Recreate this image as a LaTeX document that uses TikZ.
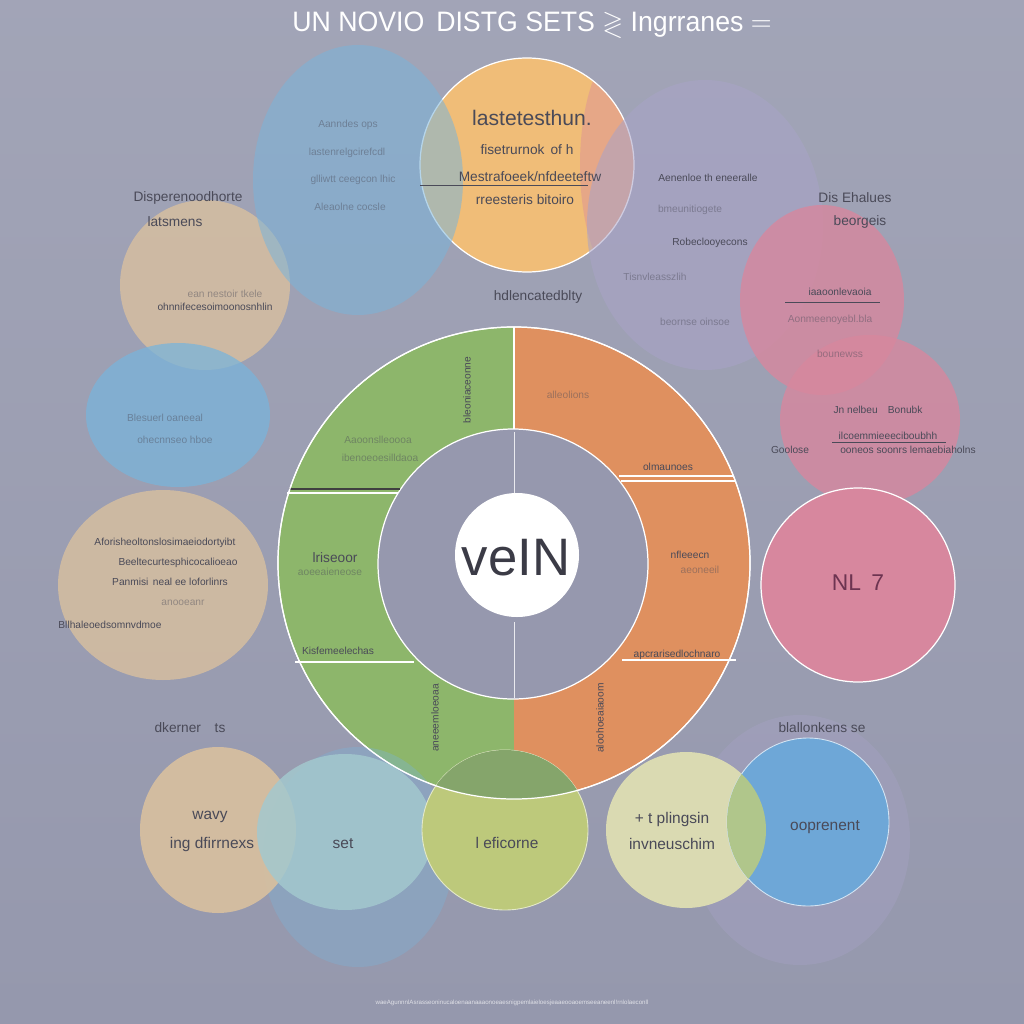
\documentclass[tikz,border=0pt]{standalone}
\usepackage{amssymb}
\usepackage{fontspec}
\setmainfont{Liberation Sans}
\usetikzlibrary{positioning}

\definecolor{bg}{HTML}{9598AD}
\definecolor{txtgray}{HTML}{4A4A58}
\definecolor{grn}{HTML}{8DB66B}
\definecolor{org}{HTML}{DF905F}
\definecolor{inner}{HTML}{9698AE}
\definecolor{yel}{HTML}{F0BD78}
\definecolor{sky}{HTML}{7AB4DA}
\definecolor{lav}{HTML}{A9A3C8}
\definecolor{pnk}{HTML}{D7879E}
\definecolor{sand}{HTML}{D9C09F}
\definecolor{teal}{HTML}{A3C8CE}
\definecolor{lime}{HTML}{BDC97B}
\definecolor{cream}{HTML}{DADAB2}
\definecolor{blu}{HTML}{6EA7D7}

\begin{document}
\begin{tikzpicture}[x=0.02cm, y=-0.02cm,
    txt/.style={text=txtgray, font=\fontsize{5.8}{6}\selectfont},
    dim/.style={txt, opacity=.45},
    lbl/.style={text=txtgray, font=\fontsize{7.8}{9}\selectfont},
    mid/.style={text=txtgray, font=\fontsize{8.8}{10}\selectfont},
    rim/.style={draw=white, line width=.7pt}]
    \tikzstyle{every node}=[inner sep=0pt];

    \useasboundingbox (0,0) rectangle (1024,1024);
    \shade[top color=bg!88!white, bottom color=bg] (0,0) rectangle (1024,1024);

    % blobs on the left
    \fill[sand, opacity=.8] (205,285) ellipse [x radius=85, y radius=85];
    \fill[sky, opacity=.75] (178,415) ellipse [x radius=92, y radius=72];
    \fill[sand, opacity=.8] (163,585) ellipse [x radius=105, y radius=95];

    % blobs on top
    \fill[yel] (527,165) circle [radius=107];
    \begin{scope}
        \clip (527,165) circle [radius=107];
        \fill[pnk, opacity=.4] (625,165) ellipse [x radius=45, y radius=120];
    \end{scope}
    \draw[rim] (527,165) circle [radius=107];
    \fill[sky, opacity=.55] (358,180) ellipse [x radius=105, y radius=135];
    \fill[lav, opacity=.55] (705,225) ellipse [x radius=118, y radius=145];
    \fill[pnk, opacity=.8] (822,300) ellipse [x radius=82, y radius=95];
    \fill[pnk, opacity=.8] (870,420) ellipse [x radius=90, y radius=85];

    % pink circle on the right
    \fill[pnk] (858,585) circle [radius=97];
    \draw[rim] (858,585) circle [radius=97];

    % ring
    \begin{scope}
        \clip (0,0) rectangle (514,1024);
        \fill[grn] (514,563) circle [radius=236];
    \end{scope}
    \begin{scope}
        \clip (514,0) rectangle (1024,1024);
        \fill[org] (514,563) circle [radius=236];
    \end{scope}
    \draw[rim] (514,563) circle [radius=236];
    \fill[inner] (513,564) circle [radius=135];
    \draw[rim] (513,564) circle [radius=135];
    \draw[white, line width=.6pt] (514,327) -- (514,429);
    \draw[white!80!bg, line width=.4pt] (514,432) -- (514,500);
    \draw[white!80!bg, line width=.4pt] (514,622) -- (514,698);
    \draw[darkgray, line width=1pt] (289,489) -- (400,489);
    \draw[white, line width=.6pt] (287,493) -- (398,493);
    \draw[white, line width=.6pt] (295,662) -- (414,662);
    \draw[white, line width=.6pt] (619,476) -- (734,476);
    \draw[white, line width=.6pt] (621,481) -- (736,481);
    \draw[white, line width=.6pt] (622,660) -- (736,660);
    \fill[white] (517,555) circle [radius=62];

    % circles at the bottom
    \fill[sky, opacity=.35] (358,857) ellipse [x radius=95, y radius=110];
    \fill[sand, opacity=.9] (218,830) ellipse [x radius=78, y radius=83];
    \fill[teal, opacity=.85] (345,832) ellipse [x radius=88, y radius=78];
    \fill[lime] (505,830) ellipse [x radius=83, y radius=80];
    \draw[white!60!lime, line width=.5pt] (505,830) ellipse [x radius=83, y radius=80];
    \begin{scope}
        \clip (505,830) ellipse [x radius=83, y radius=80];
        \fill[grn!85!black!90] (514,563) circle [radius=236];
    \end{scope}
    \draw[rim] (514,563) circle [radius=236];
    \fill[lav, opacity=.35] (800,840) ellipse [x radius=110, y radius=125];
    \fill[cream] (686,830) ellipse [x radius=80, y radius=78];
    \fill[blu] (808,822) ellipse [x radius=81, y radius=84];
    \draw[white!70!blu, line width=.5pt] (808,822) ellipse [x radius=81, y radius=84];
    \begin{scope}
        \clip (686,830) ellipse [x radius=80, y radius=78];
        \fill[grn!55!cream] (808,822) ellipse [x radius=81, y radius=84];
    \end{scope}

    % title
    \node at (532,25) (ttl) [text=white, font=\fontsize{16}{17}\selectfont, xscale=.95]
        {UN NOVIO\, DISTG SETS $\gtrless$ Ingrranes $=$};

    % texts in the top blobs
    \node at (348,125) (b1) [dim] {Aanndes ops};
    \node at (347,153) (b2) [dim] {lastenrelgcirefcdl};
    \node at (353,180) (b3) [dim] {glliwtt ceegcon lhic};
    \node at (350,207) (b4) [dim] {Aleaolne cocsle};
    \node at (532,118) (y1) [text=txtgray, font=\fontsize{12}{13}\selectfont] {lastetesthun.};
    \node at (527,150) (y2) [lbl] {fisetrurnok\, of h};
    \node at (530,177) (y3) [lbl] {Mestrafoeek/nfdeeteftw};
    \draw[txtgray, line width=.4pt] (420,185) -- (588,185);
    \node at (525,200) (y4) [lbl] {rreesteris bitoiro};
    \node at (538,297) (h1) [lbl] {hdlencatedblty};
    \node at (708,178) (p1) [txt] {Aenenloe th eneeralle};
    \node at (690,210) (p2) [dim] {bmeunitiogete};
    \node at (710,243) (p3) [txt] {Robeclooyecons};
    \node at (655,277) (p4) [dim] {Tisnvleasszlih};
    \node at (695,322) (p5) [dim] {beornse oinsoe};

    % labels round the sides
    \node at (188,198) (l1) [lbl] {Disperenoodhorte};
    \node at (175,222) (l2) [lbl] {latsmens};
    \node at (855,198) (r1) [lbl] {Dis Ehalues};
    \node at (860,222) (r2) [lbl] {beorgeis};
    \node at (225,294) (l3) [dim] {ean nestoir tkele};
    \node at (215,307) (l4) [txt] {ohnnifecesoimoonosnhlin};
    \node at (165,418) (l5) [dim] {Blesuerl oaneeal};
    \node at (175,440) (l6) [dim] {ohecnnseo hboe};
    \node at (165,543) (l7) [txt] {Aforisheoltonslosimaeiodortyibt};
    \node at (178,563) (l8) [txt] {Beeltecurtesphicocalioeao};
    \node at (170,582) (l9) [txt] {Panmisi\, neal ee loforlinrs};
    \node at (183,603) (l10) [dim] {anooeanr};
    \node at (110,625) (l11) [txt] {Bllhaleoedsomnvdmoe};
    \node at (840,292) (k1) [txt] {iaaoonlevaoia};
    \draw[txtgray, line width=.4pt] (785,302) -- (880,302);
    \node at (830,320) (k2) [dim] {Aonmeenoyebl.bla};
    \node at (840,354) (k3) [dim] {bounewss};
    \node at (878,410) (k4) [txt] {Jn nelbeu\quad Bonubk};
    \node at (888,436) (k5) [txt] {ilcoemmieeeciboubhh};
    \draw[txtgray, line width=.4pt] (832,442) -- (946,442);
    \node at (790,450) (k6) [txt] {Goolose};
    \node at (908,450) (k7) [txt] {ooneos soonrs lemaebiaholns};
    \node at (858,583) (k8) [text=txtgray!70!purple, font=\fontsize{13}{14}\selectfont] {NL\, 7};

    % texts in the ring
    \node at (467,390) (g1) [txt, rotate=90] {bleoniaceonne};
    \node at (378,440) (g2) [dim] {Aaoonslleoooa};
    \node at (380,458) (g3) [dim] {ibenoeoesilldaoa};
    \node at (335,558) (g4) [lbl] {lriseoor};
    \node at (330,572) (g5) [dim] {aoeeaieneose};
    \node at (338,651) (g6) [txt] {Kisfemeelechas};
    \node at (435,718) (g7) [txt, rotate=90] {aneeemloeoaa};
    \node at (568,395) (o1) [dim] {alleolions};
    \node at (668,467) (o2) [txt] {olmaunoes};
    \node at (690,555) (o3) [txt] {nfleeecn};
    \node at (700,570) (o4) [dim] {aeoneeil};
    \node at (677,655) (o5) [txt] {apcrarisedlochnaro};
    \node at (600,718) (o6) [txt, rotate=90] {aloohoeaiaoom};
    \node at (516,558) (v) [text=txtgray!80!black, font=\fontsize{30}{30}\selectfont] {veIN};

    % texts at the bottom
    \node at (190,728) (d1) [lbl] {dkerner\quad ts};
    \node at (822,728) (d2) [lbl] {blallonkens se};
    \node at (210,817) (c1) [mid] {wavy};
    \node at (212,844) (c2) [mid] {ing dfirrnexs};
    \node at (343,844) (c3) [mid] {set};
    \node at (507,843) (c4) [mid] {l eficorne};
    \node at (672,819) (c5) [mid] {+ t plingsin};
    \node at (672,844) (c6) [mid] {invneuschim};
    \node at (825,827) (c7) [mid] {ooprenent};
    \node at (512,1003) (f) [text=white, opacity=.7, font=\fontsize{3.5}{4}\selectfont]
        {waeAgunnnlAsrasseoninucaloenaanaaaonoeaesnigpemlaieloesjeaaeooaoemseeaneenl!rnlolaeconll};
\end{tikzpicture}
\end{document}
